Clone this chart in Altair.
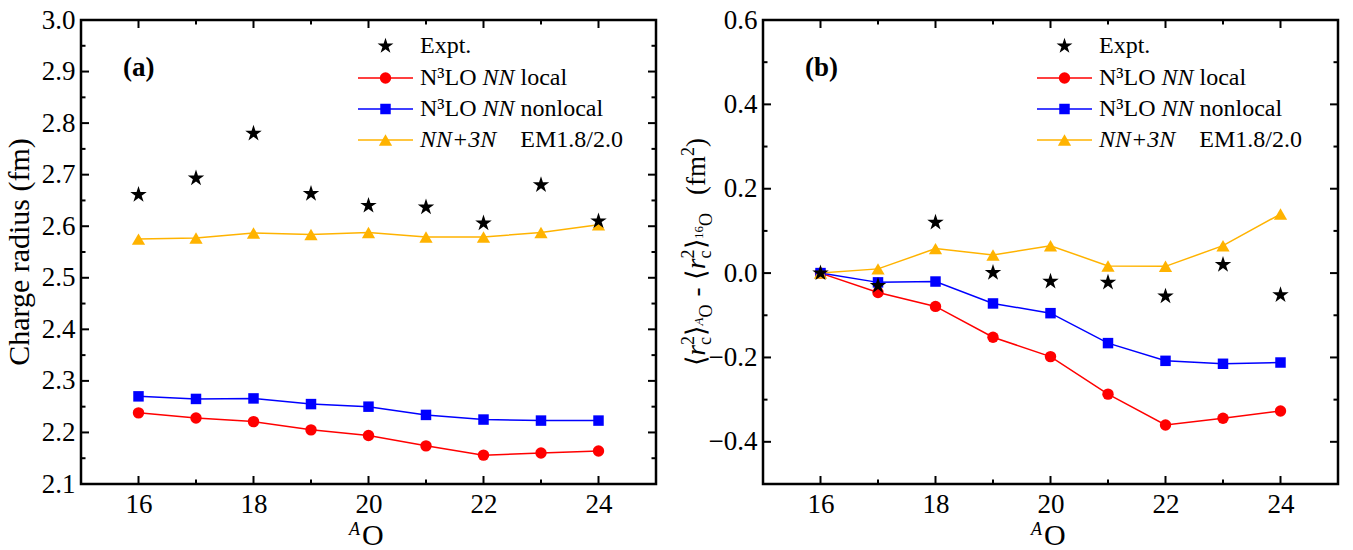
import altair as alt
import pandas as pd

FONT = "Liberation Serif"

# ---------------- data ----------------
A_VALUES = [16, 17, 18, 19, 20, 21, 22, 23, 24]

# panel (a): charge radius (fm)
EXPT_A = [2.661, 2.693, 2.780, 2.663, 2.640, 2.637, 2.606, 2.680, 2.610]
LOCAL_A = [2.238, 2.228, 2.221, 2.205, 2.194, 2.174, 2.156, 2.160, 2.164]
NONLOCAL_A = [2.270, 2.265, 2.266, 2.255, 2.250, 2.234, 2.225, 2.223, 2.223]
NN3N_A = [2.575, 2.577, 2.587, 2.584, 2.588, 2.579, 2.579, 2.588, 2.603]

# panel (b): <r_c^2>_A - <r_c^2>_16 (fm^2)
EXPT_B = [0.000, -0.030, 0.120, 0.001, -0.020, -0.022, -0.055, 0.020, -0.052]
LOCAL_B = [0.000, -0.046, -0.079, -0.152, -0.198, -0.287, -0.360, -0.344, -0.327]
NONLOCAL_B = [0.000, -0.022, -0.020, -0.072, -0.095, -0.166, -0.208, -0.215, -0.212]
NN3N_B = [0.000, 0.010, 0.058, 0.043, 0.065, 0.017, 0.016, 0.065, 0.140]

SERIES_KEYS = ["local", "nonlocal", "nn3n"]
SERIES_COLORS = ["#FF0000", "#0000FF", "#FFB300"]
SERIES_SHAPES = ["circle", "square", "triangle-up"]
SERIES_SIZES = [130, 110, 175]

# legend rows: (text, italic, leading gap in space-widths)
LEGEND_ROWS = [
    [("Expt.", False, 0)],
    [("N\u00b3LO", False, 0), ("NN", True, 1), ("local", False, 1)],
    [("N\u00b3LO", False, 0), ("NN", True, 1), ("nonlocal", False, 1)],
    [("NN+3N", True, 0), ("EM1.8/2.0", False, 4)],
]

X_DOMAIN = [15, 25]
X_MAJOR = [16, 18, 20, 22, 24]
X_MINOR = [17, 19, 21, 23]

YA_DOMAIN = [2.1, 3.0]
YA_MAJOR = [2.1, 2.2, 2.3, 2.4, 2.5, 2.6, 2.7, 2.8, 2.9, 3.0]
YA_MINOR = [2.15, 2.25, 2.35, 2.45, 2.55, 2.65, 2.75, 2.85, 2.95]

YB_DOMAIN = [-0.5, 0.6]
YB_MAJOR = [-0.4, -0.2, 0.0, 0.2, 0.4, 0.6]
YB_MINOR = [-0.5, -0.3, -0.1, 0.1, 0.3, 0.5]

YA_TITLE = "Charge radius (fm)"
STAR = ("M0,-1L0.2245,-0.309L0.951,-0.309L0.363,0.118L0.588,0.809L0,0.382"
        "L-0.588,0.809L-0.363,0.118L-0.951,-0.309L-0.2245,-0.309Z")

# ---------------- layout helpers ----------------
W, H = 575, 464
DUMMY = pd.DataFrame({"d": [0]})

WID = {'N': .722, 'L': .611, 'O': .722, '\u00b3': .3, ' ': .25, 'l': .278, 'o': .5,
       'c': .444, 'a': .444, 'n': .5, 'E': .611, 'M': .889, '1': .5, '.': .25,
       '8': .5, '/': .278, '2': .5, '0': .5, '+': .564, '3': .5, 'x': .5, 'p': .5,
       't': .278, '(': .333, ')': .333, 'f': .333, 'm': .778, 'r': .333,
       '\u27e8': .39, '\u27e9': .39, '-': .333, '6': .5, 'A': .722}
WID_IT = {'N': .667, '+': .675, 'r': .389, 'A': .611, '3': .5}
SPACE = 0.25


def text_width(t, size, italic=False):
    tot = 0.0
    for ch in t:
        if italic and ch in WID_IT:
            tot += WID_IT[ch]
        else:
            tot += WID.get(ch, .5)
    return tot * size


def txt(t, x, y, size, italic=False, bold=False, angle=0, align="left",
        baseline="middle", color="black"):
    kw = dict(font=FONT, fontSize=size, align=align, baseline=baseline, color=color)
    if italic:
        kw["fontStyle"] = "italic"
    if bold:
        kw["fontWeight"] = "bold"
    if angle:
        kw["angle"] = angle
    return alt.Chart(DUMMY).mark_text(**kw).encode(
        x=alt.value(x), y=alt.value(y), text=alt.value(t))


def legend_layers(x0):
    layers = []
    row_y = [26, 58, 89, 120]
    lx1, lx2, mx, tx = x0, x0 + 55, x0 + 27.5, x0 + 62
    size = 24
    for i, (yy, pieces) in enumerate(zip(row_y, LEGEND_ROWS)):
        if i == 0:
            layers.append(alt.Chart(DUMMY).mark_point(
                shape=STAR, size=280, filled=True, color="black", opacity=1
            ).encode(x=alt.value(mx), y=alt.value(yy)))
        else:
            k = i - 1
            layers.append(alt.Chart(DUMMY).mark_rule(
                color=SERIES_COLORS[k], strokeWidth=1.5
            ).encode(x=alt.value(lx1), x2=alt.value(lx2), y=alt.value(yy)))
            layers.append(alt.Chart(DUMMY).mark_point(
                shape=SERIES_SHAPES[k], size=SERIES_SIZES[k], filled=True,
                color=SERIES_COLORS[k], opacity=1
            ).encode(x=alt.value(mx), y=alt.value(yy)))
        cx = tx
        for t, it, gap in pieces:
            cx += gap * SPACE * size
            layers.append(txt(t, cx, yy, size, italic=it))
            cx += text_width(t, size, it)
    return layers


def x_title_layers():
    return [
        txt("A", 268, 515, 18, italic=True, baseline="alphabetic"),
        txt("O", 281, 525, 30, baseline="alphabetic"),
    ]


def yb_title_layers():
    # pieces: (text, size, italic, shift) ; shift<0 raised, >0 lowered
    main, small, tiny = 27, 18, 13
    base_x = -58
    seq = [
        [("\u27e8", main, False, 0)],
        [("r", main, True, 0)],
        [("2", small, False, -11), ("c", small, False, 6)],
        [("\u27e9", main, False, 0)],
        [("A", tiny, True, -2)],
        [("O", small, False, 7)],
        "gap8",
        [("-", main, False, 0)],
        "gap8",
        [("\u27e8", main, False, 0)],
        [("r", main, True, 0)],
        [("2", small, False, -11), ("c", small, False, 6)],
        [("\u27e9", main, False, 0)],
        [("16", tiny, False, -2)],
        [("O", small, False, 7)],
        "gap18",
        [("(fm", main, False, 0)],
        [("2", small, False, -11)],
        [(")", main, False, 0)],
    ]
    widths = []
    for grp in seq:
        if isinstance(grp, str):
            widths.append(float(grp[3:]))
        else:
            widths.append(max(text_width(t, s, it) for t, s, it, _ in grp))
    total = sum(widths)
    y = H / 2 + total / 2
    layers = []
    for grp, w in zip(seq, widths):
        if not isinstance(grp, str):
            for t, s, it, sh in grp:
                layers.append(txt(t, base_x + sh, y, s, italic=it, angle=270,
                                  align="left", baseline="alphabetic"))
        y -= w
    return layers


def panel(expt, theory, ydom, ymaj, ymin, tag, legend_x0, title_layers):
    xs = alt.Scale(domain=X_DOMAIN, nice=False, zero=False)
    ys = alt.Scale(domain=ydom, nice=False, zero=False)
    xax = alt.Axis(values=X_MAJOR, format="d", ticks=False, domain=False, grid=False,
                   labelFont=FONT, labelFontSize=27, labelColor="black",
                   labelPadding=7, labelFlush=False, labelOverlap=False, title=None)
    yax = alt.Axis(values=ymaj, format=".1f", ticks=False, domain=False, grid=False,
                   labelFont=FONT, labelFontSize=27, labelColor="black",
                   labelPadding=6, labelFlush=False, labelOverlap=False, title=None)
    rows = []
    for k, vals in zip(SERIES_KEYS, theory):
        for a, v in zip(A_VALUES, vals):
            rows.append({"A": a, "v": v, "s": k})
    df = pd.DataFrame(rows)
    ex = alt.X("A:Q", scale=xs, axis=xax)
    ey = alt.Y("v:Q", scale=ys, axis=yax)

    layers = []
    layers.append(alt.Chart(df).mark_line(strokeWidth=1.5).encode(
        x=ex, y=ey,
        color=alt.Color("s:N", scale=alt.Scale(domain=SERIES_KEYS, range=SERIES_COLORS),
                        legend=None)))
    for k, c, sh, sz in zip(SERIES_KEYS, SERIES_COLORS, SERIES_SHAPES, SERIES_SIZES):
        layers.append(alt.Chart(df[df["s"] == k]).mark_point(
            shape=sh, size=sz, filled=True, color=c, opacity=1).encode(x=ex, y=ey))
    layers.append(alt.Chart(pd.DataFrame({"A": A_VALUES, "v": expt})).mark_point(
        shape=STAR, size=300, filled=True, color="black", opacity=1).encode(x=ex, y=ey))

    # inward ticks on all four sides
    for vals, ln in ((ymaj, 8), (ymin, 4.5)):
        d = pd.DataFrame({"v": vals})
        base = alt.Chart(d).mark_rule(color="black", strokeWidth=2)
        layers.append(base.encode(y=ey, x=alt.value(0), x2=alt.value(ln)))
        layers.append(base.encode(y=ey, x=alt.value(W), x2=alt.value(W - ln)))
    for vals, ln in ((X_MAJOR, 8), (X_MINOR, 4.5)):
        d = pd.DataFrame({"A": vals})
        base = alt.Chart(d).mark_rule(color="black", strokeWidth=2)
        layers.append(base.encode(x=ex, y=alt.value(H), y2=alt.value(H - ln)))
        layers.append(base.encode(x=ex, y=alt.value(0), y2=alt.value(ln)))

    layers += legend_layers(legend_x0)
    layers.append(txt(tag, 42, 48, 27, bold=True))
    layers += x_title_layers()
    layers += title_layers
    return alt.layer(*layers).properties(width=W, height=H)


left = panel(EXPT_A, [LOCAL_A, NONLOCAL_A, NN3N_A], YA_DOMAIN, YA_MAJOR, YA_MINOR,
             "(a)", 277,
             [txt(YA_TITLE, -52, H / 2, 30, angle=270, align="center",
                  baseline="alphabetic")])
right = panel(EXPT_B, [LOCAL_B, NONLOCAL_B, NN3N_B], YB_DOMAIN, YB_MAJOR, YB_MINOR,
              "(b)", 274, yb_title_layers())

chart = alt.hconcat(left, right, spacing=107, bounds="flush").properties(
    padding={"left": 3, "top": 4, "right": 0, "bottom": 0}
).configure_view(stroke="black", strokeWidth=2.5)

chart.save("out.html", embed_options={"renderer": "svg", "actions": False})
